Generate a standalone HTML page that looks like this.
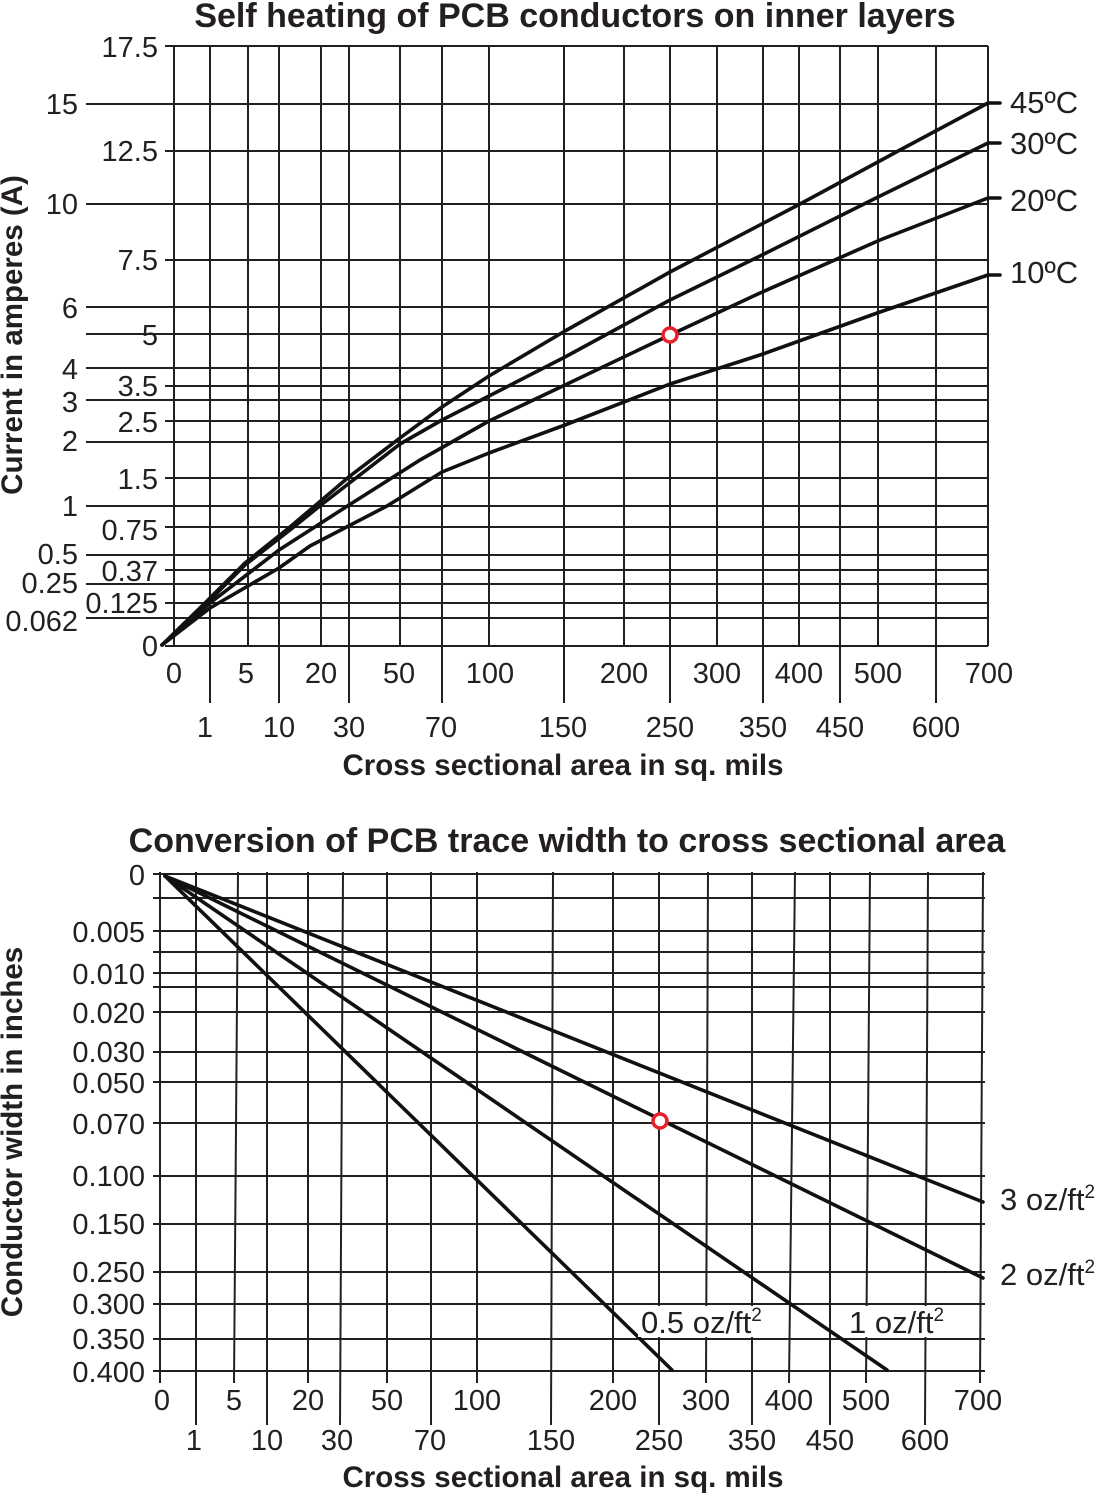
<!DOCTYPE html>
<html><head><meta charset="utf-8"><style>
html,body{margin:0;padding:0;background:#fff}
svg{display:block}
text{font-family:"Liberation Sans",Arial,sans-serif;fill:#231f20}
.t{font-size:29px}
.l{font-size:31px}
.b{font-size:29.5px;font-weight:bold}
.h{font-size:34px;font-weight:bold}
.g line{stroke:#231f20;stroke-width:2}
.c{fill:none;stroke:#111;stroke-width:3.6;stroke-linejoin:round;stroke-linecap:round}
</style></head><body>
<svg width="1095" height="1493" viewBox="0 0 1095 1493">
<!-- TOP CHART -->
<text class="h" x="575" y="27" text-anchor="middle">Self heating of PCB conductors on inner layers</text>
<text class="b" transform="translate(22,335) rotate(-90)" text-anchor="middle">Current in amperes (A)</text>
<g class="g">
<line x1="165" y1="46" x2="988" y2="46"/>
<line x1="86" y1="104" x2="988" y2="104"/>
<line x1="165" y1="151" x2="988" y2="151"/>
<line x1="86" y1="204" x2="988" y2="204"/>
<line x1="165" y1="260" x2="988" y2="260"/>
<line x1="86" y1="307" x2="988" y2="307"/>
<line x1="86" y1="334" x2="988" y2="334"/>
<line x1="86" y1="368" x2="988" y2="368"/>
<line x1="165" y1="386" x2="988" y2="386"/>
<line x1="86" y1="400" x2="988" y2="400"/>
<line x1="165" y1="421" x2="988" y2="421"/>
<line x1="86" y1="442" x2="988" y2="442"/>
<line x1="165" y1="478" x2="988" y2="478"/>
<line x1="86" y1="506" x2="988" y2="506"/>
<line x1="165" y1="527" x2="988" y2="527"/>
<line x1="86" y1="555" x2="988" y2="555"/>
<line x1="165" y1="570" x2="988" y2="570"/>
<line x1="86" y1="584" x2="988" y2="584"/>
<line x1="165" y1="603" x2="988" y2="603"/>
<line x1="86" y1="618" x2="988" y2="618"/>
<line x1="165" y1="646" x2="988" y2="646"/>
<line x1="174" y1="46" x2="174" y2="646"/>
<line x1="210" y1="46" x2="210" y2="703"/>
<line x1="248" y1="46" x2="248" y2="646"/>
<line x1="279" y1="46" x2="279" y2="703"/>
<line x1="321" y1="46" x2="321" y2="646"/>
<line x1="349" y1="46" x2="349" y2="703"/>
<line x1="400" y1="46" x2="400" y2="646"/>
<line x1="442" y1="46" x2="442" y2="703"/>
<line x1="489" y1="46" x2="489" y2="646"/>
<line x1="564" y1="46" x2="564" y2="703"/>
<line x1="624" y1="46" x2="624" y2="646"/>
<line x1="670" y1="46" x2="670" y2="703"/>
<line x1="717" y1="46" x2="717" y2="646"/>
<line x1="763" y1="46" x2="763" y2="703"/>
<line x1="799" y1="46" x2="799" y2="646"/>
<line x1="840" y1="46" x2="840" y2="703"/>
<line x1="878" y1="46" x2="878" y2="646"/>
<line x1="936" y1="46" x2="936" y2="703"/>
<line x1="988" y1="46" x2="988" y2="646"/>
</g>
<g class="t" text-anchor="end">
<text x="158" y="57">17.5</text><text x="78" y="114">15</text><text x="158" y="161">12.5</text>
<text x="78" y="214">10</text><text x="158" y="270">7.5</text><text x="78" y="318">6</text>
<text x="158" y="345">5</text><text x="78" y="379">4</text><text x="158" y="396">3.5</text>
<text x="78" y="412">3</text><text x="158" y="432">2.5</text><text x="78" y="451">2</text>
<text x="158" y="489">1.5</text><text x="78" y="516">1</text><text x="158" y="540">0.75</text>
<text x="78" y="564">0.5</text><text x="158" y="581">0.37</text><text x="78" y="593">0.25</text>
<text x="158" y="613">0.125</text><text x="78" y="631">0.062</text><text x="158" y="656">0</text>
</g>
<g class="t" text-anchor="middle">
<text x="174" y="683">0</text><text x="246" y="683">5</text><text x="321" y="683">20</text><text x="399" y="683">50</text>
<text x="490" y="683">100</text><text x="624" y="683">200</text><text x="717" y="683">300</text><text x="799" y="683">400</text>
<text x="878" y="683">500</text><text x="989" y="683">700</text>
<text x="205" y="737">1</text><text x="279" y="737">10</text><text x="349" y="737">30</text><text x="441" y="737">70</text>
<text x="563" y="737">150</text><text x="670" y="737">250</text><text x="763" y="737">350</text><text x="840" y="737">450</text>
<text x="936" y="737">600</text>
</g>
<text class="b" x="563" y="775" text-anchor="middle">Cross sectional area in sq. mils</text>
<polyline class="c" points="162,645 205,603 245,563 290,527 350,476 400,438 442,407 489,376 565,331 670,272 800,204 900,150 988,103 1000,103"/>
<polyline class="c" points="162,645 205,605 245,565 290,530 321,505 400,444 442,420 489,396 565,357 670,300 760,256 880,196 988,143 1000,143"/>
<polyline class="c" points="162,645 210,603 279,550 349,505 420,460 489,421 565,385 670,335 760,293 880,240 988,198 1000,198"/>
<polyline class="c" points="162,645 210,608 279,568 310,546 387,506 442,472 489,453 565,425 670,384 760,355 880,312 988,275 1000,275"/>
<circle cx="670" cy="335" r="7" fill="#fff" stroke="#e8202a" stroke-width="3.5"/>
<g class="l"><text x="1010" y="113">45ºC</text><text x="1010" y="154">30ºC</text><text x="1010" y="211">20ºC</text><text x="1010" y="283">10ºC</text></g>

<!-- BOTTOM CHART -->
<text class="h" x="567" y="852" text-anchor="middle">Conversion of PCB trace width to cross sectional area</text>
<text class="b" transform="translate(22,1132) rotate(-90)" text-anchor="middle">Conductor width in inches</text>
<g class="g">
<line x1="153" y1="874" x2="985" y2="874"/>
<line x1="153" y1="898" x2="985" y2="898"/>
<line x1="153" y1="931" x2="985" y2="931"/>
<line x1="153" y1="952" x2="985" y2="952"/>
<line x1="153" y1="973" x2="985" y2="973"/>
<line x1="153" y1="987" x2="985" y2="987"/>
<line x1="153" y1="1012" x2="985" y2="1012"/>
<line x1="153" y1="1052" x2="985" y2="1052"/>
<line x1="153" y1="1082" x2="985" y2="1082"/>
<line x1="153" y1="1123" x2="985" y2="1123"/>
<line x1="153" y1="1176" x2="985" y2="1176"/>
<line x1="153" y1="1224" x2="985" y2="1224"/>
<line x1="153" y1="1272" x2="985" y2="1272"/>
<line x1="153" y1="1304" x2="985" y2="1304"/>
<line x1="153" y1="1339" x2="985" y2="1339"/>
<line x1="153" y1="1371" x2="985" y2="1371"/>
<line x1="160" y1="872" x2="160" y2="1383"/>
<line x1="196" y1="872" x2="196" y2="1425"/>
<line x1="238" y1="872" x2="234" y2="1383"/>
<line x1="267" y1="872" x2="267" y2="1425"/>
<line x1="308" y1="872" x2="308" y2="1383"/>
<line x1="343" y1="872" x2="340" y2="1425"/>
<line x1="387" y1="872" x2="387" y2="1383"/>
<line x1="431" y1="872" x2="431" y2="1425"/>
<line x1="477" y1="872" x2="477" y2="1383"/>
<line x1="553" y1="872" x2="551" y2="1425"/>
<line x1="613" y1="872" x2="613" y2="1383"/>
<line x1="659" y1="872" x2="659" y2="1425"/>
<line x1="708" y1="872" x2="706" y2="1383"/>
<line x1="752" y1="872" x2="752" y2="1425"/>
<line x1="795" y1="872" x2="789" y2="1383"/>
<line x1="830" y1="872" x2="830" y2="1425"/>
<line x1="870" y1="872" x2="866" y2="1383"/>
<line x1="928" y1="872" x2="925" y2="1425"/>
<line x1="983" y1="872" x2="980" y2="1383"/>
</g>
<g class="t" text-anchor="end">
<text x="145" y="885">0</text><text x="145" y="942">0.005</text><text x="145" y="984">0.010</text>
<text x="145" y="1023">0.020</text><text x="145" y="1062">0.030</text><text x="145" y="1093">0.050</text>
<text x="145" y="1134">0.070</text><text x="145" y="1186">0.100</text><text x="145" y="1234">0.150</text>
<text x="145" y="1282">0.250</text><text x="145" y="1314">0.300</text><text x="145" y="1349">0.350</text>
<text x="145" y="1382">0.400</text>
</g>
<g class="t" text-anchor="middle">
<text x="162" y="1410">0</text><text x="234" y="1410">5</text><text x="308" y="1410">20</text><text x="387" y="1410">50</text>
<text x="477" y="1410">100</text><text x="613" y="1410">200</text><text x="706" y="1410">300</text><text x="789" y="1410">400</text>
<text x="866" y="1410">500</text><text x="978" y="1410">700</text>
<text x="194" y="1450">1</text><text x="267" y="1450">10</text><text x="337" y="1450">30</text><text x="430" y="1450">70</text>
<text x="551" y="1450">150</text><text x="659" y="1450">250</text><text x="752" y="1450">350</text><text x="830" y="1450">450</text>
<text x="925" y="1450">600</text>
</g>
<text class="b" x="563" y="1487" text-anchor="middle">Cross sectional area in sq. mils</text>
<polyline class="c" points="165,876 983,1202"/>
<polyline class="c" points="165,876 983,1278"/>
<polyline class="c" points="165,876 887,1370"/>
<polyline class="c" points="165,876 672,1370"/>
<circle cx="660" cy="1121" r="7" fill="#fff" stroke="#e8202a" stroke-width="3.5"/>
<rect x="638" y="1306" width="134" height="31" fill="#fff"/>
<rect x="846" y="1306" width="110" height="31" fill="#fff"/>
<g class="l">
<text x="1000" y="1210">3 oz/ft<tspan font-size="19" dy="-12">2</tspan></text>
<text x="1000" y="1285">2 oz/ft<tspan font-size="19" dy="-12">2</tspan></text>
<text x="641" y="1333">0.5 oz/ft<tspan font-size="19" dy="-12">2</tspan></text>
<text x="849" y="1333">1 oz/ft<tspan font-size="19" dy="-12">2</tspan></text>
</g>
</svg>
</body></html>
